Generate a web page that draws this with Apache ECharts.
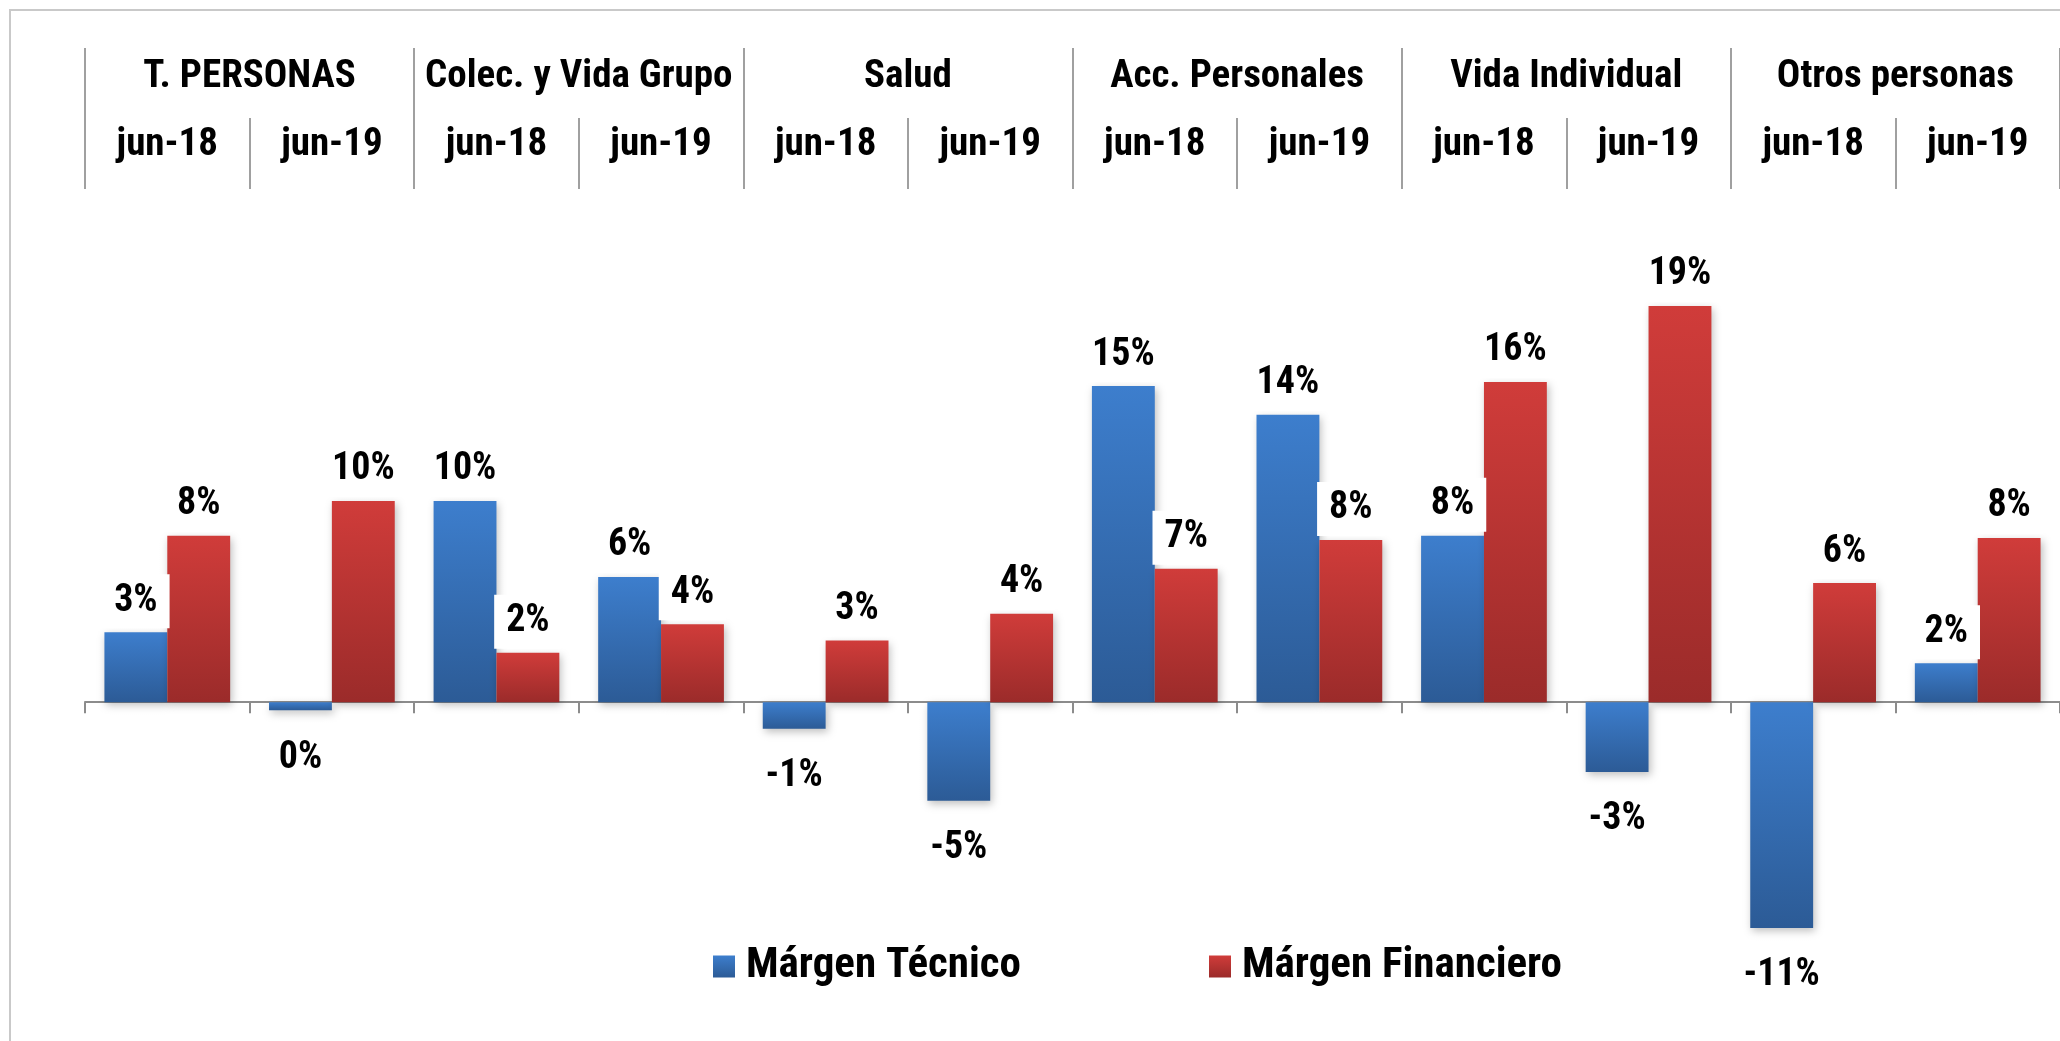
<!DOCTYPE html>
<html>
<head>
<meta charset="utf-8">
<script src="https://cdn.jsdelivr.net/npm/echarts@6/dist/echarts.min.js"></script>
<style>
  html, body { margin: 0; padding: 0; background: #fff; }
  #chart { width: 2060px; height: 1041px; }
</style>
</head>
<body>
<div id="chart"></div>
<script>
const groups = ['T. PERSONAS', 'Colec. y Vida Grupo', 'Salud', 'Acc. Personales', 'Vida Individual', 'Otros personas'];
const periods = ['jun-18', 'jun-19'];
const tecnico = [3.4, -0.4, 9.8, 6.1, -1.3, -4.8, 15.4, 14.0, 8.1, -3.4, -11.0, 1.9];
const financiero = [8.1, 9.8, 2.4, 3.8, 3.0, 4.3, 6.5, 7.9, 15.6, 19.3, 5.8, 8.0];

const FONT = '"Roboto Condensed", "Liberation Sans Narrow", "Arial Narrow", sans-serif';

// one category per group/period pair
const categories = [];
groups.forEach(g => periods.forEach(p => categories.push(p)));

const grad = (top, bottom) => new echarts.graphic.LinearGradient(0, 0, 0, 1, [
  { offset: 0, color: top },
  { offset: 1, color: bottom }
]);

const labelBase = {
  show: true,
  fontFamily: FONT,
  fontWeight: 'bold',
  fontSize: 38,
  color: '#000',
  backgroundColor: '#fff',
  padding: [8, 12],
  formatter: p => Math.round(p.value) + '%'
};

const toData = arr => arr.map(v => ({
  value: v,
  label: { position: v < 0 ? 'bottom' : 'top', distance: v < 0 ? 21 : 4 }
}));

const barStyle = (top, bottom) => ({
  color: grad(top, bottom),
  shadowColor: 'rgba(0,0,0,0.25)',
  shadowBlur: 8,
  shadowOffsetX: 2,
  shadowOffsetY: 3
});

const legendText = {
  fontFamily: FONT,
  fontWeight: 'bold',
  fontSize: 43,
  color: '#000',
  padding: [0, 0, 0, 6]
};

const chart = echarts.init(document.getElementById('chart'));
chart.setOption({
  animation: false,
  backgroundColor: '#fff',
  graphic: [{
    type: 'rect',
    shape: { x: 10, y: 10, width: 2300, height: 1300 },
    style: { fill: 'none', stroke: '#c9c9c9', lineWidth: 2 },
    silent: true
  }],
  grid: { left: 85, right: -16, top: 189, bottom: 31 },
  legend: [
    {
      data: ['Márgen Técnico'],
      left: 708, top: 940,
      icon: 'rect', itemWidth: 22, itemHeight: 22,
      textStyle: legendText
    },
    {
      data: ['Márgen Financiero'],
      left: 1204, top: 940,
      icon: 'rect', itemWidth: 22, itemHeight: 22,
      textStyle: legendText
    }
  ],
  xAxis: [
    {
      type: 'category',
      data: categories,
      axisLine: { onZero: true, lineStyle: { color: '#8c8c8c', width: 2 } },
      axisTick: { show: true, length: 11, lineStyle: { color: '#8c8c8c', width: 2 } },
      axisLabel: { show: false }
    },
    {
      type: 'category',
      position: 'top',
      data: categories,
      axisLine: { show: false, onZero: false },
      axisTick: { show: true, length: 71, lineStyle: { color: '#a0a0a0', width: 2 } },
      axisLabel: { interval: 0, margin: 24, fontFamily: FONT, fontWeight: 'bold', fontSize: 39, color: '#000' }
    },
    {
      type: 'category',
      position: 'top',
      data: groups,
      axisLine: { show: false, onZero: false },
      axisTick: { show: true, length: 141, lineStyle: { color: '#a0a0a0', width: 2 } },
      axisLabel: { interval: 0, margin: 92, fontFamily: FONT, fontWeight: 'bold', fontSize: 39, color: '#000' }
    }
  ],
  yAxis: {
    type: 'value',
    min: -15,
    max: 25,
    show: false,
    splitLine: { show: false }
  },
  series: [
    {
      name: 'Márgen Técnico',
      type: 'bar',
      barGap: '0%',
      barCategoryGap: '23.6%',
      itemStyle: barStyle('#3d7ecd', '#2c5b96'),
      label: labelBase,
      data: toData(tecnico)
    },
    {
      name: 'Márgen Financiero',
      type: 'bar',
      itemStyle: barStyle('#d03c3a', '#9b2b2a'),
      label: labelBase,
      data: toData(financiero)
    }
  ]
});
</script>
</body>
</html>
